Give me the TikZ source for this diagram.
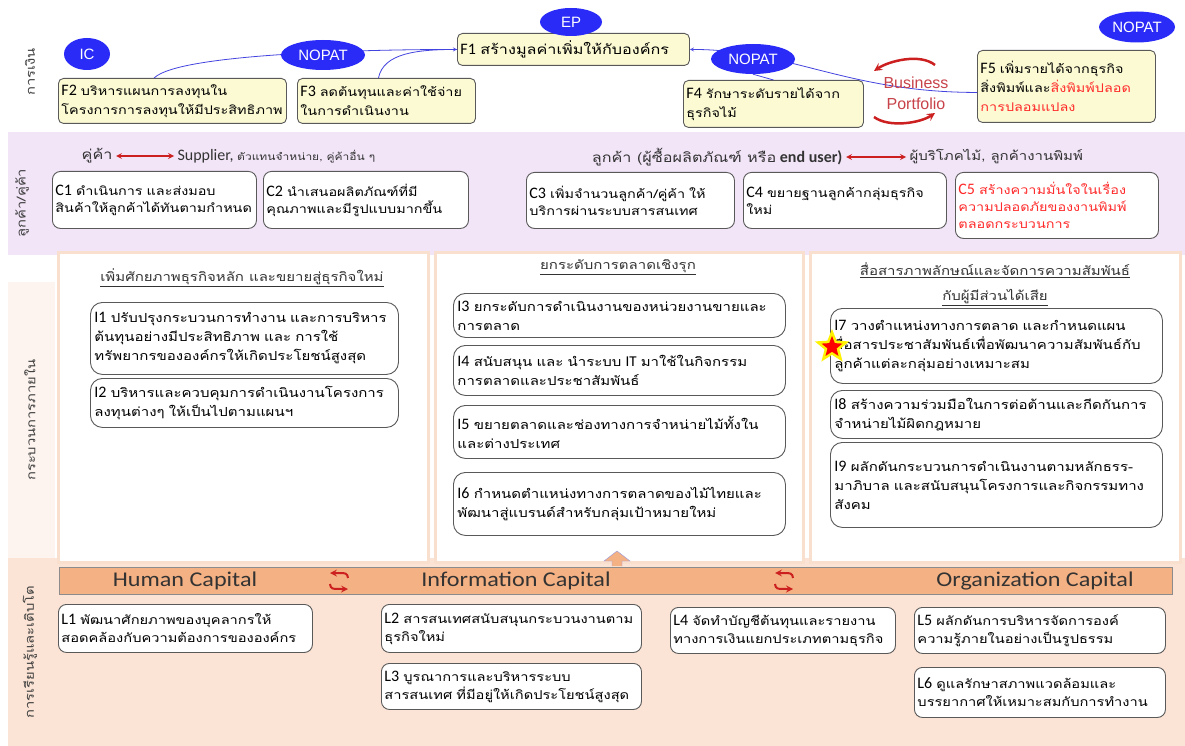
\documentclass[tikz,border=0pt]{standalone}
\usepackage{fontspec}
\setmainfont{Carlito}
\newfontfamily\thai[Script=Thai, FakeStretch=1.2]{Loma}
\newfontfamily\arial{Liberation Sans}
\newfontfamily\widecal[FakeStretch=1.15]{Carlito}
\usetikzlibrary{shapes.geometric,calc}

\definecolor{bandpink}{HTML}{F2E5F8}
\definecolor{bandpale}{HTML}{FDF4EF}
\definecolor{bandpeach}{HTML}{FBE4D5}
\definecolor{panelrim}{HTML}{F9DFCE}
\definecolor{capbar}{HTML}{F4B183}
\definecolor{finfill}{HTML}{FCFAD3}
\definecolor{evablue}{HTML}{2B2BF8}
\definecolor{linkblue}{HTML}{4444E0}
\definecolor{swapred}{HTML}{CC1F1F}
\definecolor{alertred}{HTML}{FF2A2A}
\definecolor{portred}{HTML}{C8424A}

\newcommand{\boxid}[1]{{\rmfamily\fontsize{16}{16}\selectfont #1}}

\tikzset{
  finbox/.style={draw=black!65, fill=finfill, rounded corners=5pt, line width=0.9pt,
    anchor=north west, align=left, inner sep=3pt, font=\thai\fontsize{12}{19}\selectfont},
  cbox/.style={draw=black!65, fill=white, rounded corners=8pt, line width=0.9pt,
    anchor=north west, align=left, inner sep=3pt, font=\thai\fontsize{12}{17}\selectfont},
  ibox/.style={draw=black!65, fill=white, rounded corners=12pt, line width=0.9pt,
    anchor=north west, align=left, inner sep=4pt, font=\thai\fontsize{12.5}{19}\selectfont},
  lbox/.style={draw=black!65, fill=white, rounded corners=8pt, line width=0.9pt,
    anchor=north west, align=left, inner sep=3pt, font=\thai\fontsize{12.2}{18}\selectfont},
  eva/.style={ellipse, fill=evablue, text=white, inner sep=0pt, font=\arial\fontsize{15}{15}\selectfont},
  link/.style={linkblue, line width=0.8pt},
  side/.style={rotate=90, text=black!75, font=\thai\fontsize{12.3}{13}\selectfont},
  head/.style={align=center, text=black!80, font=\thai\fontsize{12.5}{25}\selectfont},
  pairline/.style={font=\fontsize{16}{16}\selectfont, text=black!80},
  panel/.style={fill=white, draw=panelrim, line width=3pt},
  capname/.style={font=\widecal\fontsize{21}{21}\selectfont, text=black!80},
}

\begin{document}
\begin{tikzpicture}[x=1pt, y=-1pt]% strategy map

    % fond et bandes
    \fill[white] (0,0) rectangle (1185,746);
    \useasboundingbox (0,0) rectangle (1185,746);
    \fill[bandpink] (8,132) rectangle (1185,255);
    \fill[bandpale] (8,282) rectangle (55,558);
    \fill[bandpeach] (8,558) rectangle (1185,746);

    % perspectives
    \node[side] (finlbl) at (30,72) {การเงิน};
    \node[side] (custlbl) at (22,203) {ลูกค้า/คู่ค้า};
    \node[side] (proclbl) at (30,420) {กระบวนการภายใน};
    \node[side] (learnlbl) at (30,652) {การเรียนรู้และเติบโต};

    % finance
    \node[finbox, text width=226pt, minimum height=32pt, font=\thai\fontsize{13.5}{19}\selectfont] (f1) at (457,33) {\boxid{F1} สร้างมูลค่าเพิ่มให้กับองค์กร};
    \node[finbox, text width=222pt, minimum height=45pt] (f2) at (58,78) {\boxid{F2} บริหารแผนการลงทุนใน\\โครงการการลงทุนให้มีประสิทธิภาพ};
    \node[finbox, text width=172pt, minimum height=45pt] (f3) at (297,78) {\boxid{F3} ลดต้นทุนและค่าใช้จ่าย\\ในการดำเนินงาน};
    \node[finbox, text width=174pt, minimum height=47pt] (f4) at (683,80) {\boxid{F4} รักษาระดับรายได้จาก\\ธุรกิจไม้};
    \node[finbox, text width=172pt, minimum height=72pt] (f5) at (977,50) {\boxid{F5} เพิ่มรายได้จากธุรกิจ\\สิ่งพิมพ์และ\color{alertred}สิ่งพิมพ์ปลอด\\การปลอมแปลง};

    \coordinate (f2top) at ($(f2.north west)!0.42!(f2.north east)$);
    \coordinate (f3top) at ($(f3.north)+(-8,0)$);
    \coordinate (f5side) at ($(f5.west)+(0,6)$);
    \draw[link, ->, >=stealth] (f2top) .. controls +(25,-25) and +(-80,0) .. (f1.west);
    \draw[link] (f3top) .. controls +(5,-25) and +(-40,0) .. (f1.west);
    \draw[link, ->, >=stealth] (f5side) .. controls +(-130,0) and +(100,0) .. (f1.east);

    \node[eva, minimum width=46pt, minimum height=32pt] (ic) at (87,54) {IC};
    \node[eva, minimum width=84pt, minimum height=30pt] (nopat1) at (323,55) {NOPAT};
    \node[eva, minimum width=62pt, minimum height=28pt] (ep) at (571,22) {EP};
    \node[eva, minimum width=84pt, minimum height=30pt] (nopat2) at (753,59) {NOPAT};
    \draw[link] (f4.north) -- (nopat2.south);
    \node[eva, minimum width=76pt, minimum height=31pt] (nopat3) at (1137,27) {NOPAT};

    % business portfolio
    \node[align=center, text=portred, font=\arial\fontsize{16}{21}\selectfont] (bp) at (916,93) {Business\\Portfolio};
    \coordinate (bpa) at (935,65);
    \coordinate (bpb) at (874,71);
    \coordinate (bpc) at (874,117);
    \coordinate (bpd) at (935,113);
    \draw[swapred, line width=2.5pt, ->, >=stealth] (bpa) .. controls +(-15,-12) and +(15,-10) .. (bpb);
    \draw[swapred, line width=2.5pt, ->, >=stealth] (bpc) .. controls +(15,11) and +(-15,10) .. (bpd);

    % customer
    \node[pairline, anchor=east, font=\thai\fontsize{13.5}{16}\selectfont] (partner) at (116,156) {คู่ค้า};
    \node[pairline, anchor=west] (supplier) at (174,156) {Supplier, {\thai\fontsize{10}{16}\selectfont ตัวแทนจำหน่าย, คู่ค้าอื่น ๆ}};
    \draw[swapred, line width=1.6pt, <->, >=stealth] (partner) -- (supplier);
    \node[pairline, anchor=east] (buyer) at (846,157) {{\thai\fontsize{13.5}{16}\selectfont ลูกค้า (ผู้ซื้อผลิตภัณฑ์ หรือ} \textbf{end user)}};
    \node[pairline, anchor=west, font=\thai\fontsize{12.5}{16}\selectfont] (enduse) at (906,157) {ผู้บริโภคไม้, ลูกค้างานพิมพ์};
    \draw[swapred, line width=1.6pt, <->, >=stealth] (buyer) -- (enduse);

    \node[cbox, text width=198pt, minimum height=57pt] (c1) at (52,171) {\boxid{C1} ดำเนินการ และส่งมอบ\\สินค้าให้ลูกค้าได้ทันตามกำหนด};
    \node[cbox, text width=199pt, minimum height=57pt] (c2) at (263,171) {\boxid{C2} นำเสนอผลิตภัณฑ์ที่มี\\คุณภาพและมีรูปแบบมากขึ้น};
    \node[cbox, text width=202pt, minimum height=56pt] (c3) at (526,172) {\boxid{C3} เพิ่มจำนวนลูกค้า/คู่ค้า ให้\\บริการผ่านระบบสารสนเทศ};
    \node[cbox, text width=197pt, minimum height=56pt] (c4) at (743,172) {\boxid{C4} ขยายฐานลูกค้ากลุ่มธุรกิจ\\ใหม่};
    \node[cbox, text width=197pt, minimum height=66pt, text=alertred] (c5) at (955,172) {\boxid{C5} สร้างความมั่นใจในเรื่อง\\ความปลอดภัยของงานพิมพ์\\ตลอดกระบวนการ};

    % processus internes
    \draw[panel] (58,252) rectangle (428,562);
    \draw[panel] (435,252) rectangle (803,562);
    \draw[panel] (810,252) rectangle (1180,562);

    \node[head] (h1) at (242,278) {\underline{เพิ่มศักยภาพธุรกิจหลัก และขยายสู่ธุรกิจใหม่}};
    \node[head] (h2) at (618,267) {\underline{ยกระดับการตลาดเชิงรุก}};
    \node[head] (h3) at (995,284) {\underline{สื่อสารภาพลักษณ์และจัดการความสัมพันธ์}\\\underline{กับผู้มีส่วนได้เสีย}};

    \node[ibox, text width=300pt, minimum height=72pt] (i1) at (90,302) {\boxid{I1} ปรับปรุงกระบวนการทำงาน และการบริหาร\\ต้นทุนอย่างมีประสิทธิภาพ และ การใช้\\ทรัพยากรขององค์กรให้เกิดประโยชน์สูงสุด};
    \node[ibox, text width=300pt, minimum height=49pt] (i2) at (90,378) {\boxid{I2} บริหารและควบคุมการดำเนินงานโครงการ\\ลงทุนต่างๆ ให้เป็นไปตามแผนฯ};
    \node[ibox, text width=324pt, minimum height=44pt] (i3) at (453,293) {\boxid{I3} ยกระดับการดำเนินงานของหน่วยงานขายและ\\การตลาด};
    \node[ibox, text width=324pt, minimum height=50pt] (i4) at (453,345) {\boxid{I4} สนับสนุน และ นำระบบ {\rmfamily\fontsize{15}{15}\selectfont IT} มาใช้ในกิจกรรม\\การตลาดและประชาสัมพันธ์};
    \node[ibox, text width=324pt, minimum height=53pt] (i5) at (453,405) {\boxid{I5} ขยายตลาดและช่องทางการจำหน่ายไม้ทั้งใน\\และต่างประเทศ};
    \node[ibox, text width=324pt, minimum height=63pt] (i6) at (453,472) {\boxid{I6} กำหนดตำแหน่งทางการตลาดของไม้ไทยและ\\พัฒนาสู่แบรนด์สำหรับกลุ่มเป้าหมายใหม่};
    \node[ibox, text width=324pt, minimum height=75pt] (i7) at (830,308) {\boxid{I7} วางตำแหน่งทางการตลาด และกำหนดแผน\\สื่อสารประชาสัมพันธ์เพื่อพัฒนาความสัมพันธ์กับ\\ลูกค้าแต่ละกลุ่มอย่างเหมาะสม};
    \node[ibox, text width=324pt, minimum height=48pt] (i8) at (830,390) {\boxid{I8} สร้างความร่วมมือในการต่อต้านและกีดกันการ\\จำหน่ายไม้ผิดกฎหมาย};
    \node[ibox, text width=324pt, minimum height=85pt] (i9) at (830,442) {\boxid{I9} ผลักดันกระบวนการดำเนินงานตามหลักธรร-\\มาภิบาล และสนับสนุนโครงการและกิจกรรมทาง\\สังคม};

    \node[star, star points=5, star point ratio=2.3, fill=yellow, minimum size=36pt, inner sep=0pt] (glow) at (832,347) {};
    \node[star, star points=5, star point ratio=2.3, fill=red, minimum size=22pt, inner sep=0pt] (mark) at (glow) {};

    % apprentissage
    \draw[fill=capbar, draw=black!45] (59,567) rectangle (1172,594);
    \draw[fill=capbar, draw=black!30!blue!40] (612,566) -- (612,561) -- (604,561) -- (617,551) -- (630,561) -- (622,561) -- (622,566);
    \node[capname] (human) at (185,581) {Human Capital};
    \node[capname] (info) at (516,581) {Information Capital};
    \node[capname] (org) at (1035,581) {Organization Capital};
    \foreach \sx in {339,784} {
      \draw[swapred, line width=2pt, ->, >=stealth] (\sx+9,578) .. controls (\sx+8,573) .. (\sx-9,573);
      \draw[swapred, line width=2pt, ->, >=stealth] (\sx-9,584) .. controls (\sx-8,589) .. (\sx+9,589);
    }

    \node[lbox, text width=248pt, minimum height=48pt] (l1) at (58,604) {\boxid{L1} พัฒนาศักยภาพของบุคลากรให้\\สอดคล้องกับความต้องการขององค์กร};
    \node[lbox, text width=254pt, minimum height=48pt] (l2) at (381,604) {\boxid{L2} สารสนเทศสนับสนุนกระบวนงานตาม\\ธุรกิจใหม่};
    \node[lbox, text width=254pt, minimum height=46pt] (l3) at (381,663) {\boxid{L3} บูรณาการและบริหารระบบ\\สารสนเทศ ที่มีอยู่ให้เกิดประโยชน์สูงสุด};
    \node[lbox, text width=219pt, minimum height=46pt] (l4) at (670,607) {\boxid{L4} จัดทำบัญชีต้นทุนและรายงาน\\ทางการเงินแยกประเภทตามธุรกิจ};
    \node[lbox, text width=245pt, minimum height=46pt] (l5) at (914,607) {\boxid{L5} ผลักดันการบริหารจัดการองค์\\ความรู้ภายในอย่างเป็นรูปธรรม};
    \node[lbox, text width=245pt, minimum height=50pt] (l6) at (914,667) {\boxid{L6} ดูแลรักษาสภาพแวดล้อมและ\\บรรยากาศให้เหมาะสมกับการทำงาน};

\end{tikzpicture}
\end{document}
